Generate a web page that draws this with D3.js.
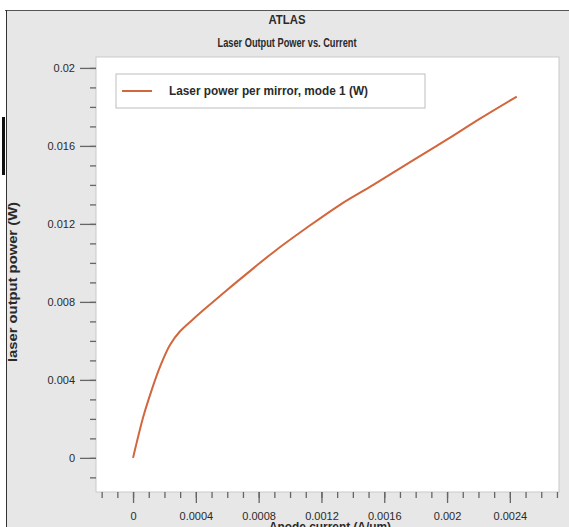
<!DOCTYPE html>
<html>
<head>
<meta charset="utf-8">
<script src="https://cdn.jsdelivr.net/npm/d3@7"></script>
<style>
  body { margin: 0; background: #fff; }
  svg text { font-family: "Liberation Sans", Arial, sans-serif; fill: #2a2a2a; }
</style>
</head>
<body>
<svg width="569" height="527"></svg>
<script>
// anode current (A/um) and laser power per mirror (W)
var current = [0, 0.0000656, 0.000119, 0.000172, 0.000235, 0.000298, 0.000384, 0.000469, 0.000597,
  0.000766, 0.000894, 0.001106, 0.001318, 0.00153, 0.001785, 0.001998, 0.00221, 0.002444];
var power = [0, 0.00212, 0.00349, 0.00468, 0.00579, 0.00648, 0.00712, 0.00772, 0.0086,
  0.00972, 0.01055, 0.0118, 0.01298, 0.014, 0.01527, 0.01632, 0.0174, 0.01853];
var xTicks = [0, 0.0004, 0.0008, 0.0012, 0.0016, 0.002, 0.0024];
var yTicks = [0, 0.004, 0.008, 0.012, 0.016, 0.02];
var seriesName = "Laser power per mirror, mode 1 (W)";

var svg = d3.select("svg");
var pLeft = 96, pRight = 559, pTop = 57, pBottom = 492;

// frame of the window
svg.append("rect").attr("x", 6).attr("y", 10).attr("width", 563).attr("height", 517).attr("fill", "#e7e7e7");
svg.append("line").attr("x1", 5).attr("x2", 569).attr("y1", 10.5).attr("y2", 10.5).attr("stroke", "#555");
svg.append("line").attr("x1", 6.5).attr("x2", 6.5).attr("y1", 10).attr("y2", 527).attr("stroke", "#333");
svg.append("rect").attr("x", 2).attr("y", 117).attr("width", 3).attr("height", 58).attr("fill", "#111");

function label(x, y, txt, len) {
  return svg.append("text").attr("x", x).attr("y", y).attr("text-anchor", "middle")
    .attr("font-size", "12px").attr("font-weight", "bold")
    .attr("textLength", len).attr("lengthAdjust", "spacingAndGlyphs").text(txt);
}
label(287, 24, "ATLAS", 37);
label(287, 47, "Laser Output Power vs. Current", 139);

var xScale = d3.scaleLinear().domain([-0.000236, 0.002713]).range([pLeft, pRight]);
var yScale = d3.scaleLinear().domain([-0.00175, 0.02056]).range([pBottom, pTop]);

svg.append("rect").attr("x", pLeft).attr("y", pTop).attr("width", pRight - pLeft).attr("height", pBottom - pTop)
  .attr("fill", "#fff").attr("stroke", "#c9c9c9");

function fmt(d) { return d === 0 ? "0" : String(+d.toFixed(6)); }

var xMinor = d3.range(-2, 28).map(function (i) { return i * 0.0001; }).filter(function (d) { return d > -0.00024 && d < 0.00271; });
var yMinor = d3.range(-1, 21).map(function (i) { return i * 0.001; });

svg.append("g").attr("transform", "translate(0," + pBottom + ")")
  .call(d3.axisBottom(xScale).tickValues(xMinor).tickSize(6).tickFormat(""))
  .call(function (g) { g.select(".domain").remove(); });
svg.append("g").attr("transform", "translate(0," + pBottom + ")")
  .call(d3.axisBottom(xScale).tickValues(xTicks).tickSize(11).tickPadding(9).tickFormat(fmt))
  .call(function (g) { g.select(".domain").remove(); });

svg.append("g").attr("transform", "translate(" + pLeft + ",0)")
  .call(d3.axisLeft(yScale).tickValues(yMinor).tickSize(6).tickFormat(""))
  .call(function (g) { g.select(".domain").remove(); });
svg.append("g").attr("transform", "translate(" + pLeft + ",0)")
  .call(d3.axisLeft(yScale).tickValues(yTicks).tickSize(16).tickPadding(5).tickFormat(fmt))
  .call(function (g) { g.select(".domain").remove(); });

svg.selectAll(".tick line").attr("stroke", "#666").attr("stroke-width", 1.3);
svg.selectAll(".tick text").attr("font-size", "11px").attr("fill", "#2a2a2a")
  .attr("font-family", "Liberation Sans, Arial, sans-serif");

svg.append("text").attr("transform", "translate(17,282) rotate(-90)")
  .attr("text-anchor", "middle").attr("font-size", "12px").attr("font-weight", "bold")
  .attr("textLength", 160).attr("lengthAdjust", "spacingAndGlyphs")
  .text("laser output power (W)");
label(330, 531, "Anode current (A/um)", 122);

var line = d3.line()
  .x(function (d, i) { return xScale(current[i]); })
  .y(function (d) { return yScale(d); })
  .curve(d3.curveCatmullRom.alpha(0.5));

svg.append("path").datum(power).attr("d", line)
  .attr("fill", "none").attr("stroke", "#d2663c").attr("stroke-width", 2);

// legend
var lg = svg.append("g");
lg.append("rect").attr("x", 116).attr("y", 74).attr("width", 309).attr("height", 34)
  .attr("fill", "#fff").attr("stroke", "#bdbdbd");
lg.append("line").attr("x1", 122).attr("x2", 152).attr("y1", 91).attr("y2", 91)
  .attr("stroke", "#d2663c").attr("stroke-width", 2);
lg.append("text").attr("x", 169).attr("y", 95).attr("font-size", "12px").attr("font-weight", "bold")
  .attr("textLength", 199).attr("lengthAdjust", "spacingAndGlyphs")
  .text(seriesName);
</script>
</body>
</html>
